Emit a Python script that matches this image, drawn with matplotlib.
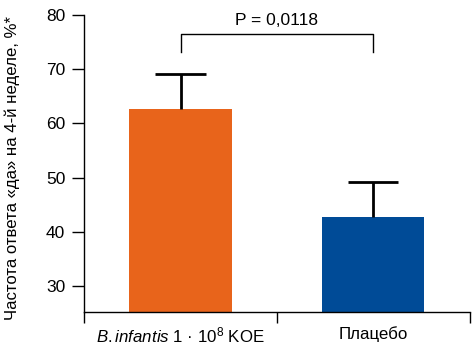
import matplotlib
matplotlib.use("Agg")
import matplotlib.pyplot as plt

plt.rcParams['font.family'] = ['Liberation Sans', 'DejaVu Sans']
plt.rcParams['mathtext.fontset'] = 'custom'
plt.rcParams['mathtext.rm'] = 'Liberation Sans'
plt.rcParams['mathtext.it'] = 'Liberation Sans:italic'

categories = [r'$\it{B{.}infantis}$ 1 · 10$^{8}$ KOE', 'Плацебо']
values = [62.7, 42.7]
errors_up = [6.4, 6.4]
colors = ['#E8641B', '#004B97']
p_label = 'P = 0,0118'
y_ticks = [30, 40, 50, 60, 70, 80]

fig = plt.figure(figsize=(4.75, 3.47), dpi=100)
ax = fig.add_axes([0.177, 0.101, 0.812, 0.856])

x = list(range(len(categories)))
ax.bar(x, values, width=0.53, color=colors, zorder=2)

# one-sided error bars with a cap on top only
cap_half = 0.13
for xi, v, e in zip(x, values, errors_up):
    ax.plot([xi, xi], [v, v + e], color='black', lw=2, zorder=3, solid_capstyle='butt')
    ax.plot([xi - cap_half, xi + cap_half], [v + e, v + e], color='black', lw=2,
            zorder=3, solid_capstyle='butt')

# significance bracket
y_br, y_low = 76.4, 73.1
ax.plot([0, 0, 1, 1], [y_low, y_br, y_br, y_low], color='black', lw=1, clip_on=False)
ax.text(0.5, y_br + 1.2, p_label, ha='center', va='bottom', fontsize=12.5)

ax.set_xlim(-0.5, 1.5)
ax.set_ylim(25.2, 80)
ax.set_yticks(y_ticks)
ax.tick_params(axis='y', length=8.5, width=1, labelsize=12.5, pad=5)
ax.set_xticks(x)
ax.set_xticklabels(categories, fontsize=12.2)
ax.tick_params(axis='x', which='major', length=0, pad=10)
ax.set_xticks([-0.5, 0.5, 1.5], minor=True)
ax.tick_params(axis='x', which='minor', length=8, width=1)

for s in ['top', 'right']:
    ax.spines[s].set_visible(False)
ax.spines['left'].set_linewidth(1)
ax.spines['bottom'].set_linewidth(1)

ax.set_ylabel('Частота ответа «да» на 4-й неделе, %*', fontsize=12.1)
ax.yaxis.set_label_coords(-0.166, 0.485)

fig.savefig('out.png', dpi=100)
